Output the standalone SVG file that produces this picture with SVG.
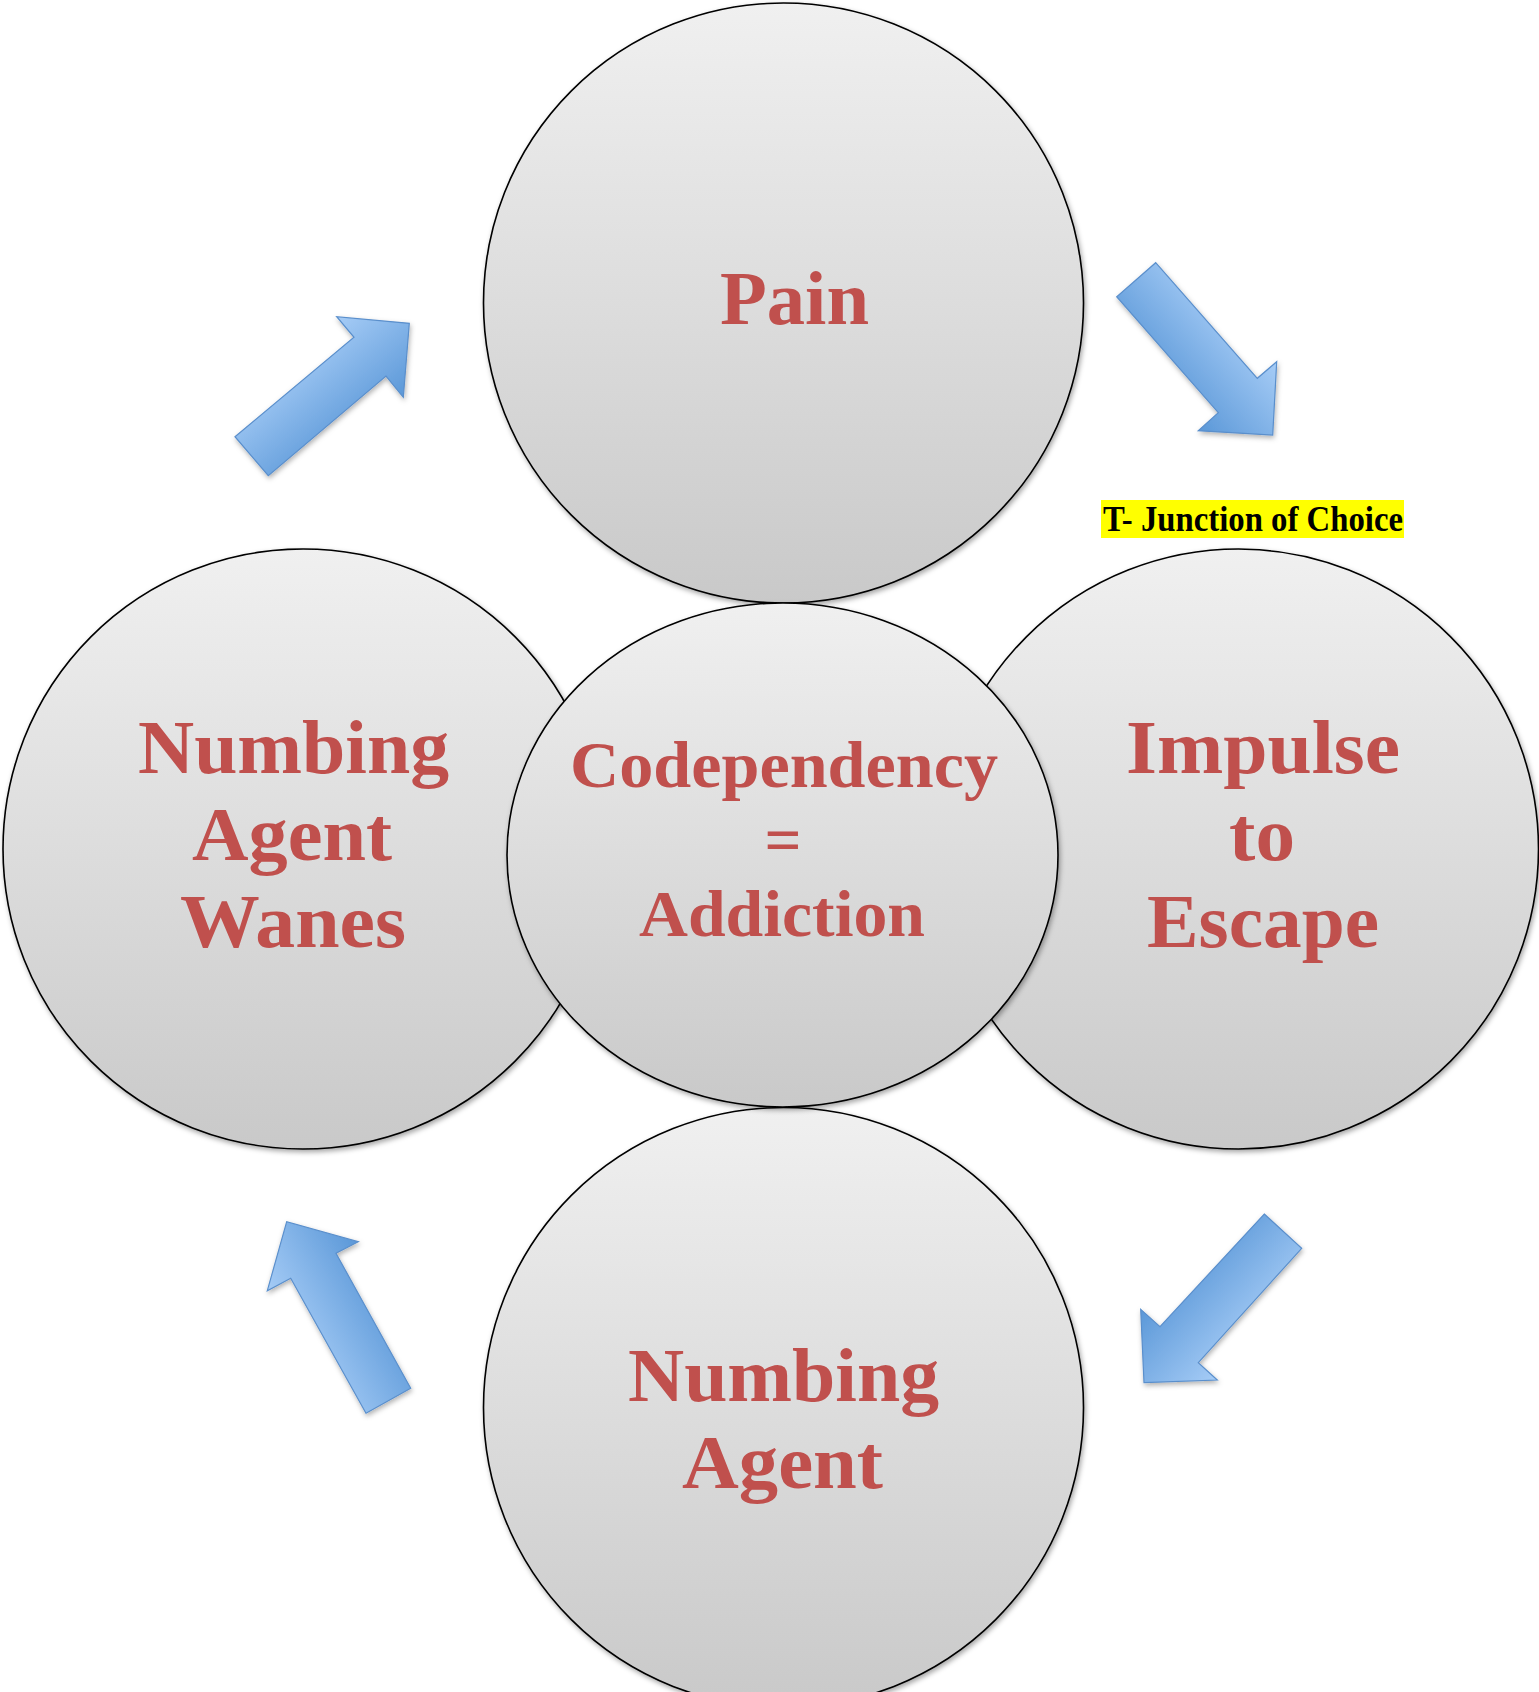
<svg xmlns="http://www.w3.org/2000/svg" width="1539" height="1692" viewBox="0 0 1539 1692">
<style>
.node{stroke:#000;stroke-width:1.6;fill:url(#gray);filter:url(#sh);}
.lbl{font-family:"Liberation Serif","Times New Roman",serif;font-weight:bold;fill:#c0504d;font-size:77px;}
.mid{font-size:65px;}
.arrow{stroke:#5a8fcc;stroke-width:1.2;stroke-linejoin:miter;filter:url(#ash);}
.note{font-family:"Liberation Serif","Times New Roman",serif;font-weight:bold;fill:#000;font-size:35px;}
</style>
<defs>
<linearGradient id="gray" x1="0" y1="0" x2="0" y2="1">
<stop offset="0" stop-color="#f0f0f0"/>
<stop offset="1" stop-color="#c9c9c9"/>
</linearGradient>
<filter id="sh" x="-10%" y="-10%" width="120%" height="120%">
<feDropShadow dx="1.5" dy="2.5" stdDeviation="2.5" flood-color="#000" flood-opacity="0.35"/>
</filter>
<filter id="ash" x="-20%" y="-20%" width="140%" height="140%">
<feDropShadow dx="1" dy="2.5" stdDeviation="2.5" flood-color="#000" flood-opacity="0.3"/>
</filter>
<linearGradient id="g1" gradientUnits="userSpaceOnUse" x1="1235" y1="315" x2="1157" y2="383">
<stop offset="0" stop-color="#a6ccf6"/><stop offset="1" stop-color="#5b98d8"/>
</linearGradient>
<linearGradient id="g2" gradientUnits="userSpaceOnUse" x1="297" y1="350" x2="364" y2="430">
<stop offset="0" stop-color="#a6ccf6"/><stop offset="1" stop-color="#5b98d8"/>
</linearGradient>
<linearGradient id="g3" gradientUnits="userSpaceOnUse" x1="292" y1="1337" x2="383" y2="1286">
<stop offset="0" stop-color="#a6ccf6"/><stop offset="1" stop-color="#5b98d8"/>
</linearGradient>
<linearGradient id="g4" gradientUnits="userSpaceOnUse" x1="1252" y1="1342" x2="1175" y2="1272">
<stop offset="0" stop-color="#a6ccf6"/><stop offset="1" stop-color="#5b98d8"/>
</linearGradient>
</defs>

<g id="connectors">
<polygon id="arrow-pain-impulse" class="arrow" fill="url(#g1)" points="1155.7,262.7 1257.3,378.3 1276.7,361.7 1272.7,435 1198.3,430.7 1218.3,412.7 1116.7,296.7"/>
<polygon id="arrow-impulse-numbing" class="arrow" fill="url(#g4)" points="1264.3,1214 1301.7,1248.3 1198.3,1362.7 1217.3,1380 1144,1382.7 1140.7,1309.3 1160,1326.7"/>
<polygon id="arrow-numbing-wanes" class="arrow" fill="url(#g3)" points="410.7,1388.3 366,1413.3 290.7,1278.3 267.3,1290.7 286.7,1221.7 358.3,1241.7 336,1253.3"/>
<polygon id="arrow-wanes-pain" class="arrow" fill="url(#g2)" points="235,436.7 354,337.3 336.7,316.7 409.3,323.3 403.3,397.3 386,376 268.3,475.7"/>
</g>

<g id="node-pain">
<circle class="node" cx="783.5" cy="303" r="300"/>
<text class="lbl" x="720" y="324" textLength="149" lengthAdjust="spacingAndGlyphs">Pain</text>
</g>

<g id="node-impulse">
<circle class="node" cx="1238.5" cy="849" r="300"/>
<text class="lbl" x="1126" y="772.5" textLength="274" lengthAdjust="spacingAndGlyphs">Impulse</text>
<text class="lbl" x="1229" y="859.5" textLength="66" lengthAdjust="spacingAndGlyphs">to</text>
<text class="lbl" x="1147" y="947" textLength="232" lengthAdjust="spacingAndGlyphs">Escape</text>
</g>

<g id="node-numbing">
<circle class="node" cx="783.5" cy="1407.5" r="300"/>
<text class="lbl" x="628" y="1401" textLength="311" lengthAdjust="spacingAndGlyphs">Numbing</text>
<text class="lbl" x="682" y="1488" textLength="201" lengthAdjust="spacingAndGlyphs">Agent</text>
</g>

<g id="node-wanes">
<circle class="node" cx="303" cy="849" r="300"/>
<text class="lbl" x="138" y="772.5" textLength="311" lengthAdjust="spacingAndGlyphs">Numbing</text>
<text class="lbl" x="192" y="859.5" textLength="200" lengthAdjust="spacingAndGlyphs">Agent</text>
<text class="lbl" x="180" y="947" textLength="226" lengthAdjust="spacingAndGlyphs">Wanes</text>
</g>

<g id="node-center">
<ellipse class="node" cx="782.5" cy="855" rx="275.5" ry="252"/>
<text class="lbl mid" x="570" y="787" textLength="428" lengthAdjust="spacingAndGlyphs">Codependency</text>
<text class="lbl mid" x="783" y="861.5" text-anchor="middle">=</text>
<text class="lbl mid" x="639" y="936" textLength="286" lengthAdjust="spacingAndGlyphs">Addiction</text>
</g>

<g id="note-junction">
<rect x="1101" y="500" width="303" height="38" fill="#ffff00"/>
<text class="note" x="1103" y="531" textLength="300" lengthAdjust="spacingAndGlyphs">T- Junction of Choice</text>
</g>
</svg>
